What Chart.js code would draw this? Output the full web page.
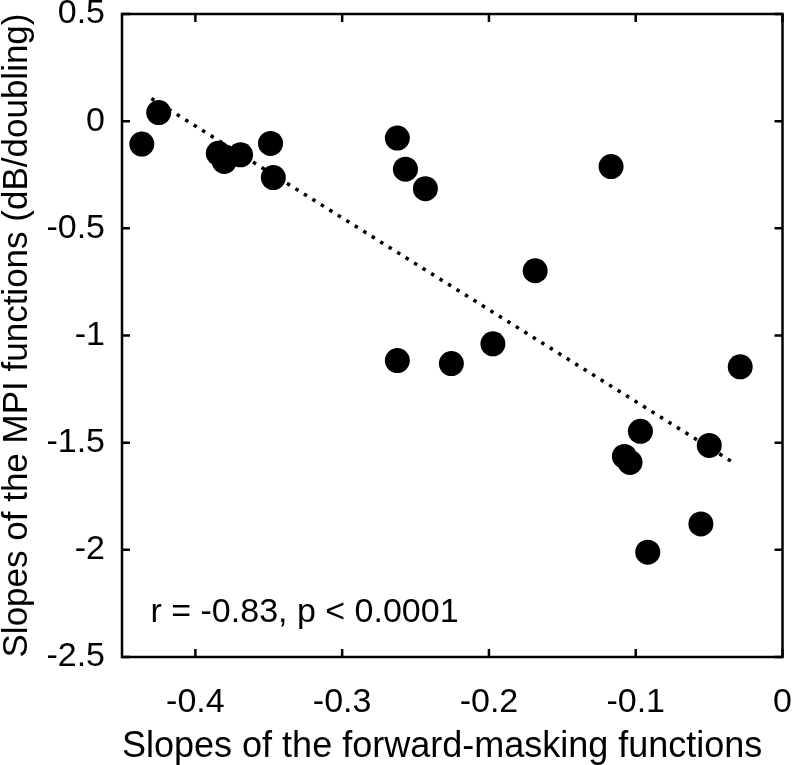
<!DOCTYPE html>
<html>
<head>
<meta charset="utf-8">
<script src="https://cdn.jsdelivr.net/npm/chart.js@4"></script>
<style>
  body { margin: 0; background: #fff; }
  #wrap { width: 795px; height: 765px; }
</style>
</head>
<body>
<div id="wrap"><canvas id="chart" width="795" height="765"></canvas></div>
<script>
// data
const fmSlopes = [-0.4365, -0.425, -0.3844, -0.3803, -0.3692, -0.3488, -0.3469, -0.2624, -0.2569, -0.2433, -0.1168,
                  -0.1685, -0.1973, -0.2624, -0.2256, -0.0968, -0.1077, -0.1039, -0.0499, -0.0556, -0.0918, -0.0288];
const mpiSlopes = [-0.107, 0.040, -0.150, -0.188, -0.157, -0.104, -0.263, -0.079, -0.224, -0.315, -0.212,
                   -0.698, -1.039, -1.117, -1.131, -1.447, -1.564, -1.592, -1.513, -1.879, -2.011, -1.146];
const fitX = [-0.430, -0.033];
const fitY = [0.106, -1.595];
const xTicks = [-0.4, -0.3, -0.2, -0.1, 0];
const yTicks = [0.5, 0, -0.5, -1, -1.5, -2, -2.5];
const statsText = 'r = -0.83, p < 0.0001';

const FONT = '"Liberation Sans", Arial, Helvetica, sans-serif';

const points = fmSlopes.map((x, i) => ({ x: x, y: mpiSlopes[i] }));
const fitLine = fitX.map((x, i) => ({ x: x, y: fitY[i] }));

// box round the plot with inward ticks on all four sides, plus the r/p note
const framePlugin = {
    id: 'frame',
    afterDraw(chart) {
        const ctx = chart.ctx;
        const a = chart.chartArea;
        const xs = chart.scales.x, ys = chart.scales.y;
        const tick = 8;
        ctx.save();
        ctx.strokeStyle = '#000';
        ctx.lineWidth = 2.5;
        ctx.strokeRect(a.left, a.top, a.right - a.left, a.bottom - a.top);
        ctx.beginPath();
        xTicks.forEach(v => {
            const px = xs.getPixelForValue(v);
            ctx.moveTo(px, a.bottom); ctx.lineTo(px, a.bottom - tick);
            ctx.moveTo(px, a.top); ctx.lineTo(px, a.top + tick);
        });
        yTicks.forEach(v => {
            const py = ys.getPixelForValue(v);
            ctx.moveTo(a.left, py); ctx.lineTo(a.left + tick, py);
            ctx.moveTo(a.right, py); ctx.lineTo(a.right - tick, py);
        });
        ctx.stroke();

        ctx.fillStyle = '#000';
        ctx.font = '34px ' + FONT;
        ctx.textAlign = 'left';
        ctx.textBaseline = 'middle';
        ctx.fillText(statsText, xs.getPixelForValue(-0.4306), ys.getPixelForValue(-2.294));
        ctx.restore();
    }
};

new Chart(document.getElementById('chart'), {
    type: 'scatter',
    data: {
        datasets: [{
            data: points,
            backgroundColor: '#000',
            borderWidth: 0,
            pointRadius: 12.5,
            pointHoverRadius: 12.5
        }, {
            type: 'line',
            data: fitLine,
            borderColor: '#000',
            borderWidth: 3.5,
            borderDash: [3.5, 6.5],
            borderCapStyle: 'butt',
            pointRadius: 0,
            fill: false
        }]
    },
    options: {
        responsive: false,
        animation: false,
        devicePixelRatio: 1,
        layout: { padding: { top: 14, right: 10, left: 0, bottom: 0 } },
        plugins: { legend: { display: false }, tooltip: { enabled: false } },
        scales: {
            x: {
                type: 'linear',
                min: -0.45,
                max: 0,
                grid: { display: false, drawTicks: false },
                border: { display: false },
                afterBuildTicks: s => { s.ticks = xTicks.map(v => ({ value: v })); },
                afterFit: s => { s.height = 108; s.paddingLeft = 0; s.paddingRight = 0; },
                ticks: {
                    color: '#000',
                    padding: 25,
                    maxRotation: 0,
                    font: { family: FONT, size: 34 },
                    callback: v => String(v)
                },
                title: {
                    display: true,
                    text: 'Slopes of the forward-masking functions',
                    color: '#000',
                    align: 'start',
                    padding: 0,
                    font: { family: FONT, size: 36, lineHeight: 1 }
                }
            },
            y: {
                type: 'linear',
                min: -2.5,
                max: 0.5,
                grid: { display: false, drawTicks: false },
                border: { display: false },
                afterBuildTicks: s => { s.ticks = yTicks.map(v => ({ value: v })); },
                afterFit: s => { s.width = 122; s.paddingTop = 0; s.paddingBottom = 0; },
                ticks: {
                    color: '#000',
                    padding: 17,
                    font: { family: FONT, size: 34 },
                    callback: v => String(v)
                },
                title: {
                    display: true,
                    text: 'Slopes of the MPI functions (dB/doubling)',
                    color: '#000',
                    padding: 0,
                    font: { family: FONT, size: 35, lineHeight: 1 }
                }
            }
        }
    },
    plugins: [framePlugin]
});
</script>
</body>
</html>
